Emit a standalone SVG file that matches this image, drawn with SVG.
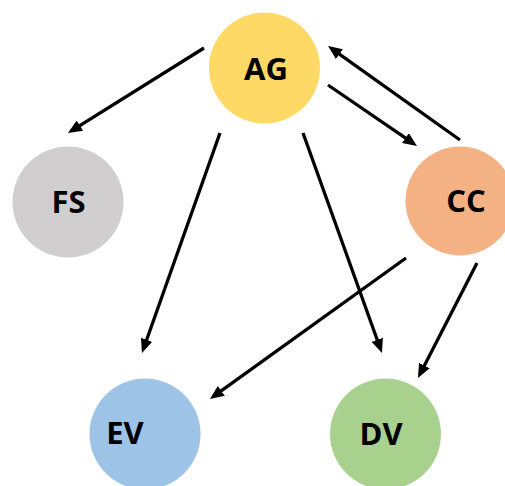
<svg xmlns="http://www.w3.org/2000/svg" width="505" height="486" viewBox="0 0 505 486">
<style>
.lbl{font-family:"Open Sans","Liberation Sans",sans-serif;font-weight:bold;font-size:31px;fill:#000;text-anchor:middle}
.edge{stroke:#000;stroke-width:3.3;fill:none;marker-end:url(#ah)}
</style>
<defs>
<marker id="ah" markerUnits="userSpaceOnUse" markerWidth="14" markerHeight="12" viewBox="0 0 14 12" refX="10" refY="6" orient="auto">
<path d="M0,0 L14,6 L0,12 z" fill="#000"/>
</marker>
</defs>
<rect width="505" height="486" fill="#fff"/>
<g id="AG"><circle cx="264.5" cy="68" r="55.5" fill="#FFD966"/><text class="lbl" x="266" y="80">AG</text></g>
<g id="FS"><circle cx="68" cy="202" r="55.5" fill="#D0CECE"/><text class="lbl" x="68.5" y="213">FS</text></g>
<g id="CC"><circle cx="460" cy="201" r="54.5" fill="#F4B183"/><text class="lbl" x="466" y="212">CC</text></g>
<g id="EV"><circle cx="145" cy="434" r="55.5" fill="#9DC3E6"/><text class="lbl" x="125" y="444">EV</text></g>
<g id="DV"><circle cx="385.5" cy="434" r="55.5" fill="#A9D18E"/><text class="lbl" x="381" y="445">DV</text></g>
<g id="connectors">
<line class="edge" x1="204" y1="48" x2="71.4" y2="130.9"/>
<line class="edge" x1="460" y1="140" x2="331.3" y2="48.3"/>
<line class="edge" x1="328" y1="85" x2="413.7" y2="143.7"/>
<line class="edge" x1="220" y1="133" x2="143.3" y2="349.2"/>
<line class="edge" x1="303" y1="133" x2="380.6" y2="349.2"/>
<line class="edge" x1="406" y1="258" x2="213.2" y2="396.7"/>
<line class="edge" x1="477" y1="263" x2="419.8" y2="374.4"/>
</g>
</svg>
